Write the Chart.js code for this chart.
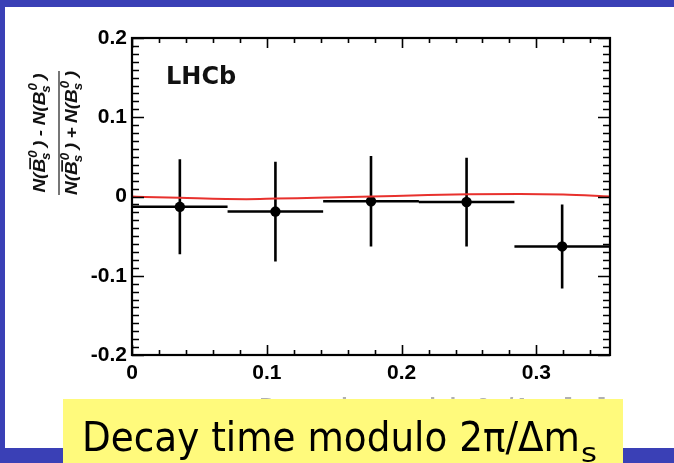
<!DOCTYPE html>
<html><head><meta charset="utf-8">
<script src="https://cdn.jsdelivr.net/npm/chart.js@4"></script>
<style>html,body{margin:0;padding:0;background:#fff;overflow:hidden}#wrap{width:674px;height:463px;position:relative}</style>
</head><body><div id="wrap"><canvas id="c" width="674" height="463"></canvas></div>
<script>
// ---- data ----
const binCenters = [0.0355, 0.1064, 0.1773, 0.2482, 0.3191];
const binLow     = [0.0, 0.0709, 0.1418, 0.2128, 0.2837];
const binHigh    = [0.0709, 0.1418, 0.2128, 0.2837, 0.3546];
const asymmetry  = [-0.013, -0.019, -0.006, -0.007, -0.063];
const asymErr    = [0.060, 0.063, 0.057, 0.056, 0.053];
const fitX = [0, 0.0094, 0.0354, 0.0849, 0.107, 0.144, 0.178, 0.2136, 0.2495, 0.2878, 0.32, 0.3546];
const fitY = [0, -0.0005, -0.0017, -0.0034, -0.0026, -0.0013, 0.0, 0.0016, 0.0029, 0.0033, 0.0025, 0.0];
const xTickValues = [0, 0.1, 0.2, 0.3];
const xTickLabels = ['0', '0.1', '0.2', '0.3'];
const yTickValues = [-0.2, -0.1, 0, 0.1, 0.2];
const yTickLabels = ['-0.2', '-0.1', '0', '0.1', '0.2'];
const xRange = [0, 0.3546];
const yRange = [-0.2, 0.2];
const experimentLabel = 'LHCb';
const xAxisTitle = 'Decay time modulo 2\u03c0/\u0394m\u209b [ps]';
const captionText = 'Decay time modulo 2\u03c0/\u0394m';
const captionSub = 's';

// ---- build datasets ----
const vErr = binCenters.flatMap((c, i) => [{x: c, y: asymmetry[i] - asymErr[i]}, {x: c, y: asymmetry[i] + asymErr[i]}, {x: c, y: null}]);
const hErr = binCenters.flatMap((c, i) => [{x: binLow[i], y: asymmetry[i]}, {x: binHigh[i], y: asymmetry[i]}, {x: binHigh[i], y: null}]);
const pts = binCenters.map((c, i) => ({x: c, y: asymmetry[i]}));
const fit = fitX.map((x, i) => ({x, y: fitY[i]}));

const BLUE = '#3a40b6';
const bgPlugin = {
  id: 'bg',
  beforeDraw(chart) {
    const ctx = chart.ctx;
    ctx.save();
    ctx.fillStyle = '#fff'; ctx.fillRect(0, 0, 674, 463);
    ctx.fillStyle = BLUE;
    ctx.fillRect(0, 0, 674, 7);
    ctx.fillRect(0, 0, 5, 463);
    ctx.fillRect(0, 448, 674, 15);
    ctx.restore();
  }
};

function term(ctx, x, base, bar, fs, draw) {
  const fMain = `italic bold ${fs}px "Liberation Sans", Arial, sans-serif`;
  const fSmall = `italic bold ${Math.round(fs * 0.68)}px "Liberation Sans", Arial, sans-serif`;
  ctx.font = fMain;
  if (draw) ctx.fillText('N(', x, base);
  x += ctx.measureText('N(').width;
  const bw = ctx.measureText('B').width;
  if (draw) {
    ctx.fillText('B', x, base);
    if (bar) ctx.fillRect(x + 3, base - fs * 0.72 - 3.5, bw - 2, 1.7);
  }
  x += bw;
  ctx.font = fSmall;
  if (draw) { ctx.fillText('0', x + 1, base - fs * 0.45); ctx.fillText('s', x - 1, base + fs * 0.3); }
  x += ctx.measureText('0').width + 4;
  ctx.font = fMain;
  if (draw) ctx.fillText(')', x, base);
  x += ctx.measureText(')').width;
  return x;
}
function fracLine(ctx, base, op, fs, draw, x0) {
  let x = term(ctx, x0, base, true, fs, draw);
  ctx.font = `italic bold ${fs}px "Liberation Sans", Arial, sans-serif`;
  x += 4;
  if (draw) ctx.fillText(op, x, base);
  x += ctx.measureText(op).width + 4;
  x = term(ctx, x, base, false, fs, draw);
  return x - x0;
}

const decoPlugin = {
  id: 'deco',
  afterDatasetsDraw(chart) {
    const ctx = chart.ctx, a = chart.chartArea;
    const xs = chart.scales.x, ys = chart.scales.y;
    ctx.save();
    ctx.strokeStyle = '#000'; ctx.lineWidth = 1.6;
    ctx.beginPath();
    for (let k = -20; k <= 20; k++) {
      const py = Math.round(ys.getPixelForValue(k / 100)) + 0.5;
      const len = (k % 10 === 0) ? 12 : 7;
      ctx.moveTo(a.left, py); ctx.lineTo(a.left + len, py);
      ctx.moveTo(a.right, py); ctx.lineTo(a.right - len, py);
    }
    for (let k = 0; k <= 17; k++) {
      const px = Math.round(xs.getPixelForValue(k * 0.02)) + 0.5;
      const len = (k % 5 === 0) ? 10 : 5;
      ctx.moveTo(px, a.bottom); ctx.lineTo(px, a.bottom - len);
      ctx.moveTo(px, a.top); ctx.lineTo(px, a.top + len);
    }
    ctx.stroke();
    ctx.lineWidth = 2.2;
    ctx.strokeRect(a.left, a.top, a.right - a.left, a.bottom - a.top);
    // experiment label
    ctx.fillStyle = '#111';
    ctx.font = 'bold 24px "DejaVu Sans", sans-serif';
    ctx.textBaseline = 'alphabetic'; ctx.textAlign = 'left';
    ctx.fillText(experimentLabel, a.left + 34, a.top + 46);
    // x-axis title (mostly hidden behind the caption box)
    ctx.save();
    ctx.fillStyle = '#b0b0b0';
    ctx.font = 'bold 23px "Liberation Sans", Arial, sans-serif';
    ctx.textAlign = 'right'; ctx.textBaseline = 'alphabetic';
    ctx.fillText(xAxisTitle, a.right - 4, 415);
    ctx.restore();
    // y-axis title (fraction), rotated
    ctx.translate(59, 133);
    ctx.rotate(-Math.PI / 2);
    const fs = 17;
    ctx.fillStyle = '#111';
    const wN = fracLine(ctx, 0, '-', fs, false, 0);
    const wD = fracLine(ctx, 0, '+', fs, false, 0);
    const target = 124;
    ctx.save();
    ctx.scale(target / Math.max(wN, wD), 1);
    fracLine(ctx, -14, '-', fs, true, -wN / 2);
    fracLine(ctx, 18, '+', fs, true, -wD / 2);
    ctx.restore();
    ctx.fillStyle = '#555';
    ctx.fillRect(-62, -0.8, 124, 1.6);
    ctx.restore();
  },
  afterDraw(chart) {
    const ctx = chart.ctx;
    ctx.save();
    ctx.fillStyle = '#fffa7c';
    ctx.fillRect(63, 399, 560, 64);
    ctx.fillStyle = '#000';
    ctx.textBaseline = 'alphabetic'; ctx.textAlign = 'left';
    ctx.font = '40px "DejaVu Sans", sans-serif';
    const w = ctx.measureText(captionText).width;
    const sx = 498 / w;
    ctx.save();
    ctx.translate(82, 451);
    ctx.scale(sx, 1);
    ctx.fillText(captionText, 0, 0);
    ctx.restore();
    ctx.font = '27px "DejaVu Sans", sans-serif';
    const ws = ctx.measureText(captionSub).width;
    ctx.save();
    ctx.translate(581, 462);
    ctx.scale(16 / ws, 1);
    ctx.fillText(captionSub, 0, 0);
    ctx.restore();
    ctx.restore();
  }
};

const tickFont = {family: '"Liberation Sans", Arial, sans-serif', size: 21, weight: 'bold'};
new Chart(document.getElementById('c'), {
  type: 'scatter',
  data: {
    datasets: [
      {data: vErr, showLine: true, spanGaps: false, borderColor: '#000', borderWidth: 2.6, pointRadius: 0, order: 3},
      {data: hErr, showLine: true, spanGaps: false, borderColor: '#000', borderWidth: 2.6, pointRadius: 0, order: 2},
      {data: pts, showLine: false, pointRadius: 5.2, pointBackgroundColor: '#000', pointBorderColor: '#000', borderWidth: 0, order: 1},
      {data: fit, showLine: true, borderColor: '#e8312d', borderWidth: 2, pointRadius: 0, tension: 0.4, cubicInterpolationMode: 'monotone', order: 0}
    ]
  },
  options: {
    responsive: false, animation: false, events: [],
    devicePixelRatio: 1,
    layout: {padding: {top: 38, right: 64, left: 0, bottom: 0}},
    plugins: {legend: {display: false}, tooltip: {enabled: false}, title: {display: false}},
    scales: {
      x: {
        type: 'linear', position: 'bottom', min: xRange[0], max: xRange[1],
        grid: {display: false, drawTicks: false}, border: {display: false},
        afterBuildTicks: s => { s.ticks = xTickValues.map(v => ({value: v})); },
        afterFit: s => { s.height = 108; },
        ticks: {font: tickFont, color: '#000', padding: 6, maxRotation: 0, autoSkip: false,
          callback: (v, i) => xTickLabels[xTickValues.indexOf(v)] ?? xTickLabels[i]}
      },
      y: {
        type: 'linear', position: 'left', min: yRange[0], max: yRange[1],
        grid: {display: false, drawTicks: false}, border: {display: false},
        afterBuildTicks: s => { s.ticks = yTickValues.map(v => ({value: v})); },
        afterFit: s => { s.width = 132; },
        ticks: {font: tickFont, color: '#000', padding: 5, autoSkip: false,
          callback: (v, i) => yTickLabels[yTickValues.indexOf(v)] ?? yTickLabels[i]}
      }
    }
  },
  plugins: [bgPlugin, decoPlugin]
});
</script>
</body></html>
